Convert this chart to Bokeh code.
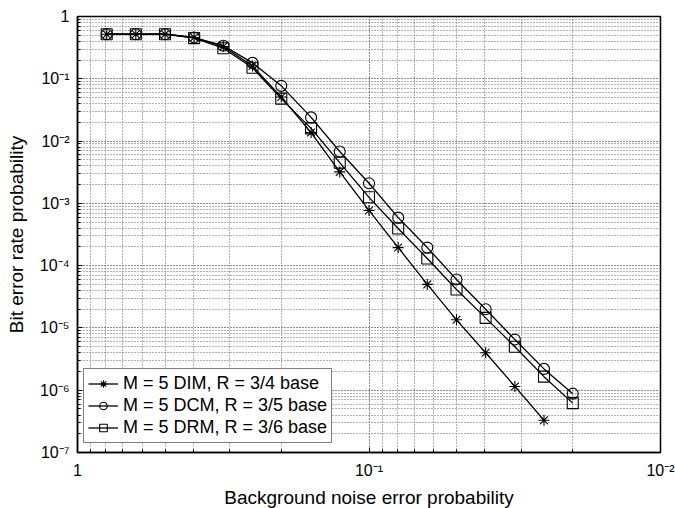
from bokeh.plotting import figure
from bokeh.models import Range1d, FixedTicker, Legend, LegendItem
from bokeh.embed import file_html
from bokeh.resources import INLINE

# ---- data ----
noise_prob = [0.794, 0.631, 0.501, 0.398, 0.316, 0.251, 0.2, 0.158, 0.126, 0.1,
              0.0794, 0.0631, 0.0501, 0.0398, 0.0316, 0.0251, 0.02]
ber_dim = [0.52, 0.52, 0.52, 0.46, 0.33, 0.16, 0.051, 0.0137, 0.0032, 7.7e-4,
           1.95e-4, 5.0e-5, 1.35e-5, 4.0e-6, 1.15e-6, 3.3e-7]
ber_dcm = [0.52, 0.52, 0.52, 0.46, 0.34, 0.18, 0.077, 0.024, 0.0068, 0.0021,
           5.9e-4, 1.95e-4, 6.0e-5, 2.0e-5, 6.5e-6, 2.2e-6, 8.8e-7]
ber_drm = [0.52, 0.52, 0.52, 0.45, 0.31, 0.15, 0.048, 0.016, 0.0045, 0.00125,
           3.95e-4, 1.3e-4, 4.15e-5, 1.45e-5, 5.0e-6, 1.65e-6, 6.2e-7]
series_labels = ["M = 5 DIM, R = 3/4 base",
                 "M = 5 DCM, R = 3/5 base",
                 "M = 5 DRM, R = 3/6 base"]
x_major_ticks = [1.0, 0.1, 0.01]
x_tick_labels = ["1", "10\u207b\u00b9", "10\u207b\u00b2"]
y_major_ticks = [1.0, 0.1, 0.01, 0.001, 1e-4, 1e-5, 1e-6, 1e-7]
y_tick_labels = ["1", "10\u207b\u00b9", "10\u207b\u00b2", "10\u207b\u00b3",
                 "10\u207b\u2074", "10\u207b\u2075", "10\u207b\u2076", "10\u207b\u2077"]
x_label = "Background noise error probability"
y_label = "Bit error rate probability"

FONT = "Liberation Sans"

x_minor = [m * 10.0 ** e for e in (-2, -1) for m in range(1, 10)]
y_minor = [m * 10.0 ** e for e in range(-7, 0) for m in range(1, 10)]

p = figure(x_axis_type="log", y_axis_type="log",
           x_range=Range1d(1, 0.01), y_range=Range1d(1e-7, 1),
           frame_width=583, frame_height=436,
           min_border_left=77, min_border_right=15,
           min_border_top=16, min_border_bottom=56,
           output_backend="svg", toolbar_location=None,
           background_fill_color="white", border_fill_color="white")

p.xaxis.ticker = FixedTicker(ticks=x_major_ticks, minor_ticks=x_minor)
p.yaxis.ticker = FixedTicker(ticks=y_major_ticks, minor_ticks=y_minor)
p.xaxis.major_label_overrides = dict(zip(x_major_ticks, x_tick_labels))
p.yaxis.major_label_overrides = dict(zip(y_major_ticks, y_tick_labels))
p.xaxis.axis_label = x_label
p.yaxis.axis_label = y_label

for ax in (p.xaxis, p.yaxis):
    ax.axis_line_color = "black"
    ax.axis_line_width = 1.5
    ax.major_tick_in = 5
    ax.major_tick_out = 0
    ax.minor_tick_in = 3
    ax.minor_tick_out = 0
    ax.major_tick_line_color = "black"
    ax.minor_tick_line_color = "black"
    ax.major_label_text_font = FONT
    ax.major_label_text_font_size = "16px"
    ax.major_label_text_color = "black"
    ax.axis_label_text_font = FONT
    ax.axis_label_text_font_size = "19px"
    ax.axis_label_text_font_style = "normal"
    ax.axis_label_text_color = "black"

p.xaxis.major_label_standoff = 9
p.xaxis.axis_label_standoff = 5
p.yaxis.major_label_standoff = 8
p.yaxis.axis_label_standoff = 10

for g in (p.xgrid, p.ygrid):
    g.grid_line_color = "#666666"
    g.grid_line_dash = "1 2"
    g.grid_line_width = 1
    g.minor_grid_line_color = "#666666"
    g.minor_grid_line_dash = "1 2"
    g.minor_grid_line_width = 1

p.outline_line_color = "black"
p.outline_line_width = 1.5

n_dim = len(ber_dim)
l1 = p.line(noise_prob[:n_dim], ber_dim, line_color="black", line_width=1.3)
m1 = p.scatter(noise_prob[:n_dim], ber_dim, marker="asterisk", size=11,
               line_color="black", line_width=1.1)
l2 = p.line(noise_prob, ber_dcm, line_color="black", line_width=1.3)
m2 = p.scatter(noise_prob, ber_dcm, marker="circle", size=11,
               line_color="black", fill_color=None, line_width=1.1)
l3 = p.line(noise_prob, ber_drm, line_color="black", line_width=1.3)
m3 = p.scatter(noise_prob, ber_drm, marker="square", size=11,
               line_color="black", fill_color=None, line_width=1.1)

legend = Legend(items=[LegendItem(label=series_labels[0], renderers=[l1, m1]),
                       LegendItem(label=series_labels[1], renderers=[l2, m2]),
                       LegendItem(label=series_labels[2], renderers=[l3, m3])],
                location=(6, 9))
legend.border_line_color = "black"
legend.border_line_width = 1.5
legend.background_fill_color = "white"
legend.background_fill_alpha = 1
legend.label_text_font = FONT
legend.label_text_font_size = "18px"
legend.label_text_color = "black"
legend.glyph_width = 30
legend.glyph_height = 19
legend.label_height = 19
legend.label_standoff = 5
legend.spacing = 1
legend.padding = 4
legend.margin = 0
p.add_layout(legend)

open("out.html", "w").write(file_html(p, INLINE))
